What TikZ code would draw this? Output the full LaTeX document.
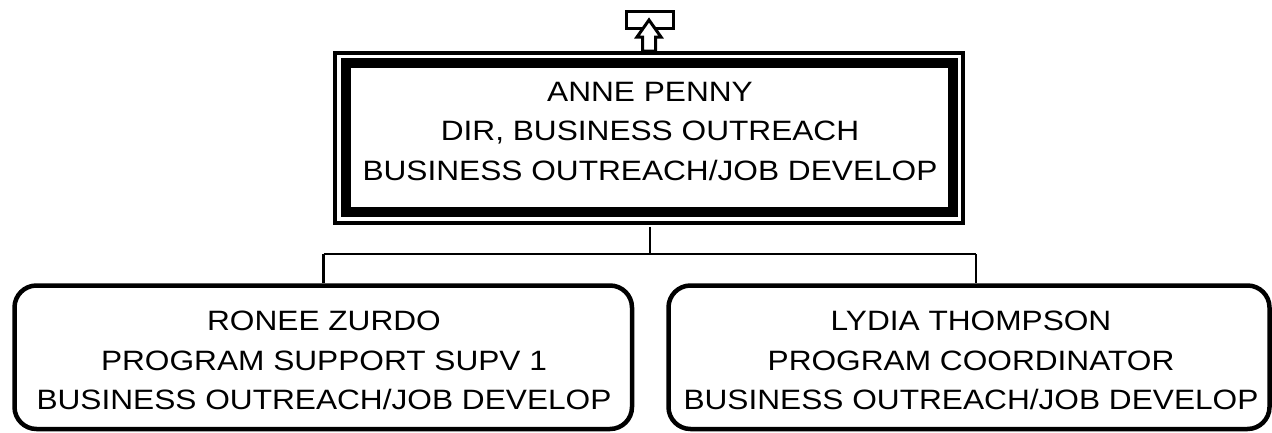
\documentclass[tikz,border=0pt]{standalone}
\usepackage{fontspec}
\newfontfamily\labfont[FakeStretch=1.13]{Liberation Sans}
\tikzset{
  lab/.style={inner sep=0pt, anchor=north, align=center,
    font=\labfont\fontsize{28}{39.5}\selectfont},
  outerline/.style={draw=black, line width=4pt},
  innerthick/.style={draw=black, line width=10pt},
  childbox/.style={draw=black, line width=4.5pt, rounded corners=22pt},
  conn/.style={draw=black, line width=2.5pt},
  iconline/.style={draw=black, line width=3pt, fill=white, line join=miter}
}
\begin{document}
\begin{tikzpicture}[x=1pt, y=-1pt]
\useasboundingbox (0,0) rectangle (1272,432);
% top box
\path[outerline] (335,53) rectangle (962.5,222.5);
\path[innerthick] (346,63.3) rectangle (952.5,212.3);
\node[inner sep=0pt, minimum width=632pt, minimum height=174pt] (b0) at (648.75,137.75) {};
\node[lab] (t0) at (650,81.7) {ANNE PENNY\\DIR, BUSINESS OUTREACH\\BUSINESS OUTREACH/JOB DEVELOP};
% child boxes
\node[childbox, minimum width=617.5pt, minimum height=143.5pt] (b1) at (323.25,357.25) {};
\node[childbox, minimum width=601pt, minimum height=143.5pt] (b2) at (969,357.25) {};
\node[lab] (t1) at (324,311) {RONEE ZURDO\\PROGRAM SUPPORT SUPV 1\\BUSINESS OUTREACH/JOB DEVELOP};
\node[lab] (t2) at (971,311) {LYDIA THOMPSON\\PROGRAM COORDINATOR\\BUSINESS OUTREACH/JOB DEVELOP};
% connectors
\coordinate (j0) at (650,254);
\coordinate (jl) at (323.5,254);
\coordinate (jr) at (976,254);
\draw[conn] (b0.south -| j0) ++(0,2) -- (j0);
\draw[conn] (jl) -- (jr);
\draw[conn] (jl) -- (jl |- b1.north);
\draw[conn] (jr) -- (jr |- b2.north);
% top icon
\path[iconline] (626.5,11.5) rectangle (673.5,28.5);
\path[iconline] (649,20) -- (661,37) -- (655.5,37) -- (655.5,51) -- (642.5,51) -- (642.5,37) -- (637,37) -- cycle;
\end{tikzpicture}
\end{document}
